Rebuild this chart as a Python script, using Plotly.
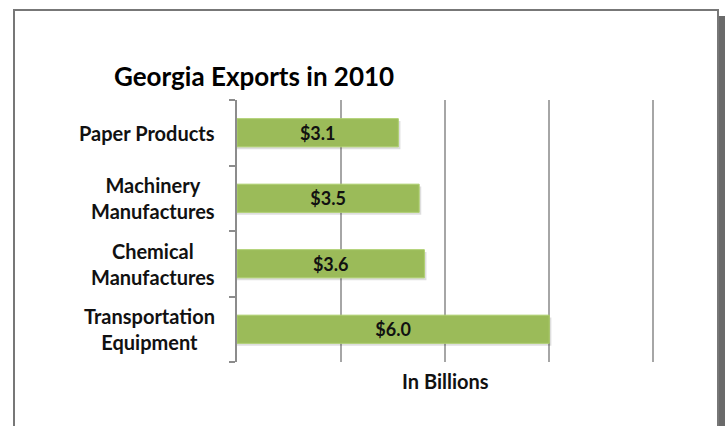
import plotly.graph_objects as go

categories = ["Paper Products", "Machinery<br>Manufactures", "Chemical<br>Manufactures", "Transportation<br>Equipment"]
values = [3.1, 3.5, 3.6, 6.0]
labels = ["$3.1", "$3.5", "$3.6", "$6.0"]
title_text = "Georgia Exports in 2010"
x_title = "In Billions"

W, H = 725, 426
XMAX = 8.05
L, T, B = 237, 100, 64
pw = round(416 * XMAX / 8)
R = W - L - pw
ph = H - T - B

def px(x):
    return (x - L) / pw

def py(y):
    return (H - B - y) / ph

FONT = "Lato"
BW = 0.43

fig = go.Figure()
# soft bar shadows
fig.add_trace(go.Bar(
    y=categories, x=[v + 0.04 for v in values], orientation="h",
    marker=dict(color="rgba(0,0,0,0.13)", line=dict(width=0)),
    width=BW, offset=-BW / 2 - 0.035, hoverinfo="skip",
))
fig.add_trace(go.Bar(
    y=categories, x=values, orientation="h",
    text=["<b>%s</b>" % s for s in labels], textposition="inside", insidetextanchor="middle",
    textfont=dict(family=FONT, size=18, color="#111"),
    marker=dict(color="#9BBB59", line=dict(color="#AECF6E", width=1)),
    width=BW, offset=-BW / 2, cliponaxis=False,
))

annotations = []
for c in categories:
    annotations.append(dict(
        x=px(217), xref="paper", y=c, yref="y", text="<b>%s</b>" % c,
        showarrow=False, xanchor="right", yanchor="middle", align="center",
        font=dict(family=FONT, size=20, color="#111"),
    ))
annotations.append(dict(
    x=px(112), xref="paper", y=py(76), yref="paper", text="<b>%s</b>" % title_text,
    showarrow=False, xanchor="left", yanchor="middle",
    font=dict(family=FONT, size=26, color="#000"),
))
annotations.append(dict(
    x=px(445), xref="paper", y=py(381), yref="paper", text="<b>%s</b>" % x_title,
    showarrow=False, xanchor="center", yanchor="middle",
    font=dict(family=FONT, size=20, color="#111"),
))

shapes = [
    dict(type="rect", xref="paper", yref="paper", x0=px(719), x1=px(726), y0=py(440), y1=py(16),
         fillcolor="#6a6a6a", line=dict(width=0), layer="below"),
    dict(type="rect", xref="paper", yref="paper", x0=px(14), x1=px(718), y0=py(440), y1=py(10),
         fillcolor="white", line=dict(color="#777", width=2), layer="below"),
]

fig.update_layout(
    width=W, height=H,
    margin=dict(l=L, r=R, t=T, b=B, pad=0),
    paper_bgcolor="white", plot_bgcolor="rgba(0,0,0,0)",
    showlegend=False, barmode="overlay",
    annotations=annotations,
    shapes=shapes,
)
fig.update_xaxes(range=[0, XMAX], dtick=2, showticklabels=False, showgrid=True,
                 gridcolor="#A6A6A6", gridwidth=1.5, zeroline=False, showline=False,
                 ticks="")
fig.update_yaxes(categoryorder="array", categoryarray=categories[::-1],
                 showticklabels=False, showline=True, linecolor="#8C8C8C", linewidth=1.5,
                 ticks="outside", ticklen=6, tickcolor="#8C8C8C", tickwidth=1.5,
                 tickson="boundaries", showgrid=False, zeroline=False)

fig.write_html(
    "out.html",
    config={"displayModeBar": False},
    post_script="document.body.style.margin='0';document.body.style.overflow='hidden';",
)
